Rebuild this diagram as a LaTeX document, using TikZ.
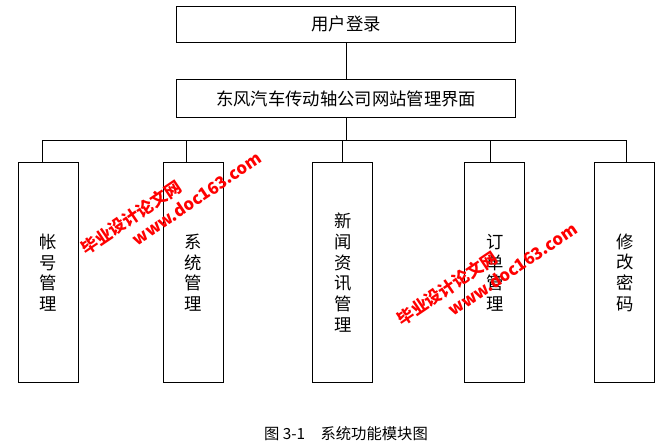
\documentclass[tikz,border=0pt]{standalone}
\usepackage{fontspec}
\newfontfamily\cjk{Noto Sans CJK SC}
\begin{document}
\begin{tikzpicture}[x=1pt,y=-1pt,
  box/.style={draw,line width=0.6pt,inner sep=0pt,font=\cjk\fontsize{13}{15}\selectfont},
  vbox/.style={box,minimum width=45pt,minimum height=165pt,align=center,font=\cjk\fontsize{13}{15.5}\selectfont},
  wm/.style={text=red,font=\cjk\bfseries\fontsize{12.5}{14}\selectfont,rotate=34,align=left}]
\useasboundingbox (0,0) rectangle (501,333);
\node[box,minimum width=254pt,minimum height=27pt] (login) at (259.5,18) {用户登录};
\node[box,minimum width=254pt,minimum height=28.5pt] (main) at (259.5,74) {东风汽车传动轴公司网站管理界面};
\node[vbox] (a) at (36,204.5) {帐\\号\\管\\理};
\node[vbox] (b) at (145,204.5) {系\\统\\管\\理};
\node[vbox] (c) at (257,204.5) {新\\闻\\资\\讯\\管\\理};
\node[vbox] (d) at (371,204.5) {订\\单\\管\\理};
\node[vbox] (e) at (468.5,204.5) {修\\改\\密\\码};
\draw[line width=0.6pt] (login) -- (main);
\coordinate (bus) at (259.5,105);
\draw[line width=0.6pt] (main.south) -- (bus);
\draw[line width=0.6pt] (31.5,105) -- (469.5,105);
\foreach \n/\xx in {a/31.5,b/140,c/257,d/367.5,e/469.5}
  \draw[line width=0.6pt] (\xx,105) -- (\n.north -| \xx,0);
\node[font=\cjk\fontsize{11.5}{13}\selectfont] (cap) at (259.5,325) {图 3-1\quad 系统功能模块图};
\node[wm] (w1) at (128,152) {毕业设计论文网\\[2pt]\hspace*{36pt}www.doc163.com};
\node[wm] (w2) at (365,205) {毕业设计论文网\\[2pt]\hspace*{36pt}www.doc163.com};
\end{tikzpicture}
\end{document}
